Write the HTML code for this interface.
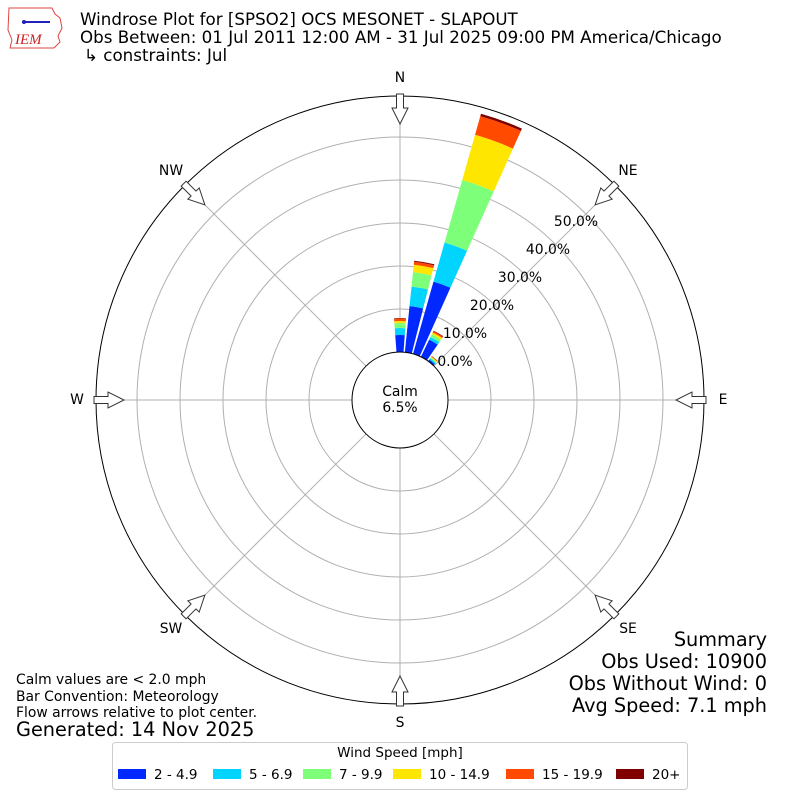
<!DOCTYPE html>
<html><head><meta charset="utf-8"><style>
body{margin:0;background:#fff;}
svg{display:block;font-family:"DejaVu Sans","Liberation Sans",sans-serif;}
</style></head><body>
<svg id="s" width="800" height="800" viewBox="0 0 800 800" xmlns="http://www.w3.org/2000/svg">
<rect width="800" height="800" fill="#fff"/>
<g>
<path d="M9,8 L52,8 L55,14 L60,18 L62,28 L58,36 L60,42 L54,48 L10,48 L12,40 L8,30 Z" fill="none" stroke="#d44" stroke-width="1"/>
<line x1="22" y1="22" x2="50" y2="22" stroke="#22b" stroke-width="2"/>
<circle cx="24" cy="22" r="2" fill="#22b"/>
<text x="15" y="44" font-family="Liberation Serif,serif" font-style="italic" font-size="15" fill="#c22">IEM</text>
</g>
<text x="80" y="25" font-size="16.7" fill="#000">Windrose Plot for [SPSO2] OCS MESONET - SLAPOUT</text>
<text x="80" y="43" font-size="16.7" fill="#000">Obs Between: 01 Jul 2011 12:00 AM - 31 Jul 2025 09:00 PM America/Chicago</text>
<text x="84" y="61" font-size="16.7" fill="#000">↳ constraints: Jul</text>
<g id="grid" fill="none" stroke="#b0b0b0" stroke-width="1"></g>
<g id="bars"></g>
<circle cx="400" cy="400" r="304" fill="none" stroke="#000" stroke-width="1"/>
<circle cx="400" cy="400" r="48" fill="#fff" stroke="#000" stroke-width="1"/>
<text x="400" y="396" font-size="13.9" text-anchor="middle">Calm</text>
<text x="400" y="412" font-size="13.9" text-anchor="middle">6.5%</text>
<g id="arrows"></g>
<g font-size="13.9" text-anchor="middle">
<text x="400" y="82">N</text>
<text x="628" y="175">NE</text>
<text x="723" y="404">E</text>
<text x="628" y="633">SE</text>
<text x="400" y="727">S</text>
<text x="171" y="633">SW</text>
<text x="77" y="404">W</text>
<text x="171" y="175">NW</text>
</g>
<g font-size="13.9" text-anchor="middle">
<text x="455" y="366">0.0%</text>
<text x="465" y="338">10.0%</text>
<text x="492" y="310">20.0%</text>
<text x="520" y="282">30.0%</text>
<text x="548" y="254">40.0%</text>
<text x="576" y="226">50.0%</text>
</g>
<g font-size="19.3" text-anchor="end">
<text x="767" y="646">Summary</text>
<text x="767" y="668">Obs Used: 10900</text>
<text x="767" y="690">Obs Without Wind: 0</text>
<text x="767" y="712">Avg Speed: 7.1 mph</text>
</g>
<g font-size="13.9">
<text x="16" y="684">Calm values are &lt; 2.0 mph</text>
<text x="16" y="701">Bar Convention: Meteorology</text>
<text x="16" y="717">Flow arrows relative to plot center.</text>
</g>
<text x="16" y="736" font-size="19.3">Generated: 14 Nov 2025</text>
<rect x="112.5" y="742.5" width="575" height="47" rx="3" fill="#fff" stroke="#ccc"/>
<text x="400" y="757" font-size="13.5" text-anchor="middle">Wind Speed [mph]</text>
<g font-size="13.5">
<rect x="118" y="769" width="28" height="10" fill="#0028ff"/><text x="154" y="779">2 - 4.9</text>
<rect x="213" y="769" width="28" height="10" fill="#00d4ff"/><text x="249" y="779">5 - 6.9</text>
<rect x="303" y="769" width="28" height="10" fill="#7dff7a"/><text x="339" y="779">7 - 9.9</text>
<rect x="393" y="769" width="28" height="10" fill="#ffe600"/><text x="429" y="779">10 - 14.9</text>
<rect x="506" y="769" width="28" height="10" fill="#ff4a00"/><text x="542" y="779">15 - 19.9</text>
<rect x="616" y="769" width="28" height="10" fill="#800000"/><text x="652" y="779">20+</text>
</g>
</svg>
<script>
var NS="http://www.w3.org/2000/svg";
function el(t,a,p){var e=document.createElementNS(NS,t);for(var k in a)e.setAttribute(k,a[k]);p.appendChild(e);return e;}
var g=document.getElementById('grid');
[91,134,177,220,263].forEach(function(r){el('circle',{cx:400,cy:400,r:r},g);});
for(var a=0;a<360;a+=45){var t=a*Math.PI/180;el('line',{x1:400+48*Math.sin(t),y1:400-48*Math.cos(t),x2:400+304*Math.sin(t),y2:400-304*Math.cos(t)},g);}
function P(r,d){var t=d*Math.PI/180;return (400+r*Math.sin(t)).toFixed(2)+","+(400-r*Math.cos(t)).toFixed(2);}
function sec(r0,r1,c,w){var a=c-w/2,b=c+w/2;return "M"+P(r0,a)+" A"+r0+","+r0+" 0 0 1 "+P(r0,b)+" L"+P(r1,b)+" A"+r1+","+r1+" 0 0 0 "+P(r1,a)+" Z";}
var cols=["#0028ff","#00d4ff","#7dff7a","#ffe600","#ff4a00","#800000"];
var bars=[[0,[65,72,77,79,81.5,82]],[10,[94.5,114,128.5,136,139,140]],[20,[123,163.6,228.6,275.6,295,297.5]],[30,[67,70,73,75,76.5,77]],[40,[50,51.5,52.5,53.5,54,54.3]]];
var bg=document.getElementById('bars');
bars.forEach(function(b){var r0=48;b[1].forEach(function(r,i){if(r>r0)el('path',{d:sec(r0,r,b[0],8.4),fill:cols[i]},bg);r0=r;});});
var ag=document.getElementById('arrows');
for(var a=0;a<360;a+=45){
 var gg=el('g',{transform:"rotate("+a+" 400 400)"},ag);
 el('path',{d:"M396.5,94 L403.5,94 L403.5,108 L408,108 L400,124 L392,108 L396.5,108 Z",fill:"#fff",stroke:"#333","stroke-width":1},gg);
}
</script>
</body></html>
